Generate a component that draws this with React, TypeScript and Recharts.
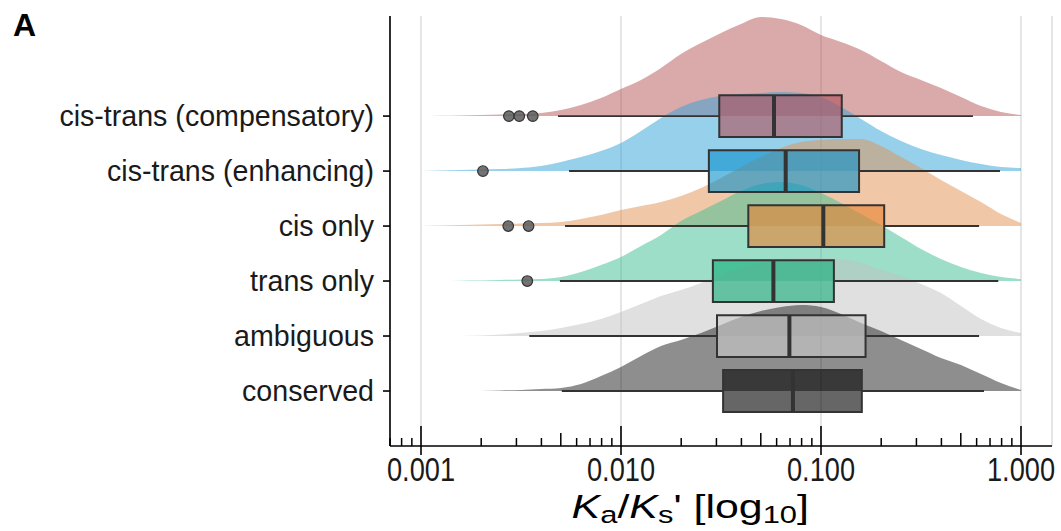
import {
  ComposedChart,
  Area,
  XAxis,
  YAxis,
  CartesianGrid,
  ReferenceArea,
  ReferenceLine,
  Scatter,
} from "recharts";

const FONT = "'Liberation Sans', Arial, Helvetica, sans-serif";

// rows from bottom (1) to top (6)
const categories = [
  "conserved",
  "ambiguous",
  "trans only",
  "cis only",
  "cis-trans (enhancing)",
  "cis-trans (compensatory)",
];

// density sample points, log10(Ka/Ks')
const logX = [
  -3.0, -2.9, -2.8, -2.7, -2.6, -2.5, -2.4, -2.3, -2.2, -2.1, -2.0, -1.9, -1.8, -1.7, -1.6, -1.5,
  -1.4, -1.3, -1.2, -1.1, -1.0, -0.9, -0.8, -0.7, -0.6, -0.5, -0.4, -0.3, -0.2, -0.1, 0.0,
];

// relative densities (ridge heights)
const densCompensatory = [
  0, 0.3, 0.6, 1, 1.5, 2, 3, 6, 11, 18, 27, 36, 48, 62, 73, 83, 92, 99, 97, 91, 81, 74, 66, 55,
  44, 36, 28, 19, 10, 4, 1,
];
const densEnhancing = [
  0, 0.5, 1, 1.5, 2, 3, 5, 9, 14, 20, 28, 40, 53, 64, 71, 75, 77, 78, 79, 78, 74, 64, 52, 40, 30,
  22, 16, 11, 7, 4, 3,
];
const densCisOnly = [
  0, 0.5, 1, 1.5, 2, 2.5, 3, 4, 7, 11, 16, 20, 24, 30, 38, 48, 59, 69, 78, 84, 86, 87, 87, 80,
  69, 58, 46, 35, 24, 12, 3,
];
const densTransOnly = [
  0, 0, 0.3, 0.5, 1, 1.5, 2, 4, 9, 16, 24, 35, 46, 60, 70, 80, 90, 97, 99, 96, 88, 78, 67, 56, 44,
  32, 22, 14, 8, 4, 2,
];
const densAmbiguous = [
  0, 0, 0, 0.5, 1.5, 3, 5, 8, 12, 17, 24, 32, 40, 46, 53, 62, 68, 73, 76, 78, 78, 77, 73, 66, 60,
  52, 43, 30, 17, 8, 3,
];
const densConserved = [
  0, 0, 0, 0, 0.5, 1, 2, 3, 7, 15, 24, 35, 45, 51, 58, 66, 74, 80, 84, 86, 84, 77, 68, 60, 51,
  42, 33, 26, 17, 8, 1,
];

// box statistics, Ka/Ks' (bottom row first)
const whiskerLow = [0.00506, 0.00348, 0.00495, 0.00525, 0.0055, 0.00484];
const q1 = [0.0324, 0.0302, 0.0288, 0.0433, 0.0275, 0.031];
const median = [0.0724, 0.0695, 0.0578, 0.1027, 0.0666, 0.0582];
const q3 = [0.16, 0.167, 0.116, 0.207, 0.155, 0.127];
const whiskerHigh = [0.653, 0.617, 0.77, 0.617, 0.785, 0.575];

const outliers = [
  { v: 0.00275, row: 6 },
  { v: 0.0031, row: 6 },
  { v: 0.00362, row: 6 },
  { v: 0.00204, row: 5 },
  { v: 0.00273, row: 4 },
  { v: 0.00345, row: 4 },
  { v: 0.0034, row: 3 },
];

const ridgeColors = ["#1d1d1d", "#c1c1c1", "#39bd91", "#e19151", "#2fa1d5", "#b55355"];
const boxColors = ["#000000", "#cbcbcb", "#11ac78", "#e98030", "#0a8fcc", "#b24e58"];
const densities = [
  densConserved,
  densAmbiguous,
  densTransOnly,
  densCisOnly,
  densEnhancing,
  densCompensatory,
];

const xMajor = [-3, -2, -1, 0];
const minorMult = [2, 3, 4, 5, 6, 7, 8, 9];
const minorDecades = [-4, -3, -2, -1];

const SCALE = 1 / 55;
const BOX_HALF = 0.38;
const X_DOMAIN: [number, number] = [-3.155, 0.155];

const table = logX.map((x, i) => {
  const row: Record<string, number> = { x };
  densities.forEach((d, k) => {
    row["d" + k] = d[i];
  });
  return row;
});

const outlierData = outliers.map((o) => ({ x: Math.log10(o.v), y: o.row }));

const minorTicks: { x: number; h: number }[] = [];
minorDecades.forEach((dec) => {
  minorMult.forEach((m) => {
    const x = dec + Math.log10(m);
    if (x >= X_DOMAIN[0] - 0.001 && x <= X_DOMAIN[1]) {
      minorTicks.push({ x, h: m === 5 ? 0.236 : 0.145 });
    }
  });
});

const lg = (v: number) => Math.log10(v);

function XTick({ x, y, payload }: { x?: number; y?: number; payload?: { value: number } }) {
  return (
    <g transform={`translate(${x},${y})`}>
      <text
        transform="scale(0.8,1)"
        textAnchor="middle"
        dy="0.71em"
        fontSize={34}
        fontFamily={FONT}
        fill="#1a1a1a"
      >
        {Math.pow(10, payload?.value ?? 0).toFixed(3)}
      </text>
    </g>
  );
}

export default function App() {
  const order = [5, 4, 3, 2, 1, 0];
  const sub = { fontSize: "0.72em", position: "relative" as const, top: "0.22em" };
  return (
    <div
      style={{
        position: "absolute",
        left: 0,
        top: 0,
        width: 1061,
        height: 531,
        background: "#fff",
        fontFamily: FONT,
      }}
    >
      <ComposedChart
        width={1061}
        height={531}
        data={table}
        margin={{ top: 16, right: 9, bottom: 0, left: 0 }}
      >
        <CartesianGrid horizontal={false} stroke="#d4d4d4" strokeWidth={1.2} />
        <XAxis
          dataKey="x"
          type="number"
          domain={X_DOMAIN}
          ticks={xMajor}
          allowDataOverflow
          height={85}
          tick={<XTick />}
          tickSize={9}
          tickMargin={2}
          tickLine={{ stroke: "#000", strokeWidth: 1.6 }}
          axisLine={{ stroke: "#000", strokeWidth: 1.6 }}
        />
        <YAxis
          type="number"
          domain={[0, 7.82]}
          ticks={[1, 2, 3, 4, 5, 6]}
          allowDataOverflow
          width={390}
          tickFormatter={(v: number) => categories[v - 1] ?? ""}
          tick={{ fill: "#1a1a1a", fontSize: 28.6, fontFamily: FONT }}
          tickSize={7}
          tickMargin={9}
          tickLine={{ stroke: "#000", strokeWidth: 1.6 }}
          axisLine={{ stroke: "#000", strokeWidth: 1.6 }}
        />
        {order.map((k) => (
          <Area
            key={"ridge" + k}
            type="monotone"
            dataKey={(d: Record<string, number>) => [k + 1, k + 1 + d["d" + k] * SCALE]}
            stroke="none"
            fill={ridgeColors[k]}
            fillOpacity={0.5}
            dot={false}
            activeDot={false}
            isAnimationActive={false}
          />
        ))}
        {order.map((k) => (
          <ReferenceLine
            key={"wl" + k}
            segment={[
              { x: lg(whiskerLow[k]), y: k + 1 },
              { x: lg(q1[k]), y: k + 1 },
            ]}
            stroke="#333"
            strokeWidth={1.9}
          />
        ))}
        {order.map((k) => (
          <ReferenceLine
            key={"wh" + k}
            segment={[
              { x: lg(q3[k]), y: k + 1 },
              { x: lg(whiskerHigh[k]), y: k + 1 },
            ]}
            stroke="#333"
            strokeWidth={1.9}
          />
        ))}
        {order.map((k) => (
          <ReferenceArea
            key={"box" + k}
            x1={lg(q1[k])}
            x2={lg(q3[k])}
            y1={k + 1 - BOX_HALF}
            y2={k + 1 + BOX_HALF}
            fill={boxColors[k]}
            fillOpacity={0.6}
            stroke="#333"
            strokeWidth={2}
            strokeOpacity={1}
          />
        ))}
        {order.map((k) => (
          <ReferenceLine
            key={"med" + k}
            segment={[
              { x: lg(median[k]), y: k + 1 - BOX_HALF },
              { x: lg(median[k]), y: k + 1 + BOX_HALF },
            ]}
            stroke="#333"
            strokeWidth={4}
          />
        ))}
        {xMajor.map((x) => (
          <ReferenceLine
            key={"mj" + x}
            segment={[
              { x, y: 0 },
              { x, y: 0.364 },
            ]}
            stroke="#000"
            strokeWidth={1.6}
          />
        ))}
        {minorTicks.map((t) => (
          <ReferenceLine
            key={"mn" + t.x}
            segment={[
              { x: t.x, y: 0 },
              { x: t.x, y: t.h },
            ]}
            stroke="#000"
            strokeWidth={1.5}
          />
        ))}
        <Scatter
          data={outlierData}
          dataKey="y"
          isAnimationActive={false}
          shape={(p: { cx?: number; cy?: number }) => (
            <circle cx={p.cx} cy={p.cy} r={5.3} fill="#5a5a5a" fillOpacity={0.85} stroke="#333" strokeWidth={1.2} />
          )}
        />
      </ComposedChart>
      <div
        style={{
          position: "absolute",
          left: 13,
          top: 6,
          fontSize: 32,
          fontWeight: 700,
          color: "#000",
          lineHeight: "38px",
        }}
      >
        A
      </div>
      <div
        style={{
          position: "absolute",
          left: 390,
          width: 600,
          top: 490,
          textAlign: "center",
          fontSize: 33,
          lineHeight: "34px",
          color: "#000",
          whiteSpace: "nowrap",
        }}
      >
        <span style={{ display: "inline-block", transform: "scaleX(1.3)", transformOrigin: "50% 50%" }}>
          <i>K</i>
          <span style={sub}>a</span>/<i>K</i>
          <span style={sub}>s</span>' [log
          <span style={sub}>10</span>]
        </span>
      </div>
    </div>
  );
}
